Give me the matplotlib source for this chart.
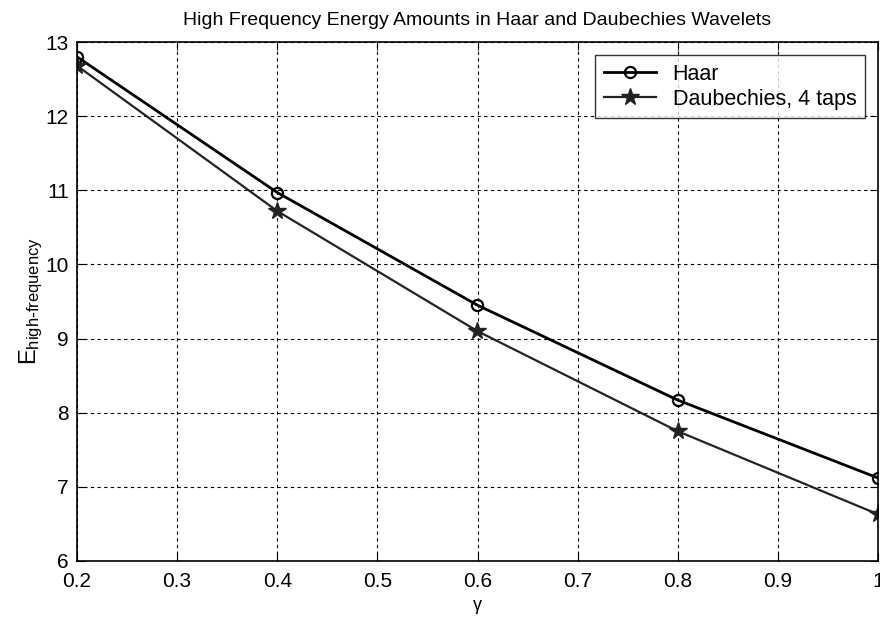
import matplotlib.pyplot as plt
import numpy as np

plt.rcParams['font.family'] = ['Liberation Sans', 'DejaVu Sans']

gamma = [0.2, 0.4, 0.6, 0.8, 1.0]
haar = [12.80, 10.97, 9.45, 8.17, 7.12]
daub4 = [12.68, 10.72, 9.10, 7.75, 6.63]

fig = plt.figure(figsize=(8.8, 6.17), dpi=100)
ax = fig.add_axes([77 / 880, 1 - 561 / 617, (878 - 77) / 880, (561 - 42) / 617])

ax.plot(gamma, haar, color='black', lw=2.0, marker='o', ms=8, mfc='none', mew=1.6, label='Haar')
ax.plot(gamma, daub4, color='#222222', lw=1.6, marker='*', ms=13, mew=1.0, label='Daubechies, 4 taps')

ax.set_xlim(0.2, 1.0)
ax.set_ylim(6, 13)
ax.set_xticks(np.arange(0.2, 1.01, 0.1))
ax.set_xticklabels(['0.2', '0.3', '0.4', '0.5', '0.6', '0.7', '0.8', '0.9', '1'])
ax.set_yticks(range(6, 14))
ax.tick_params(direction='in', top=True, right=True, labelsize=15, length=6)
ax.tick_params(axis='x', pad=8)
ax.tick_params(axis='y', pad=6)
ax.grid(True, color='black', linestyle=(0, (3, 3)), linewidth=0.8)
for s in ax.spines.values():
    s.set_linewidth(1.2)

ax.set_title('High Frequency Energy Amounts in Haar and Daubechies Wavelets', fontsize=14, pad=12)
ax.set_xlabel('γ', fontsize=13, labelpad=4)
ax.set_ylabel(r'$\mathregular{E_{high\text{-}frequency}}$', fontsize=17, labelpad=0)

leg = ax.legend(loc='upper right', fontsize=15.5, frameon=True, fancybox=False,
                edgecolor='black', handlelength=2.4, borderaxespad=0.6, labelspacing=0.2)
leg.get_frame().set_linewidth(1.0)

plt.savefig('out.png', dpi=100)
